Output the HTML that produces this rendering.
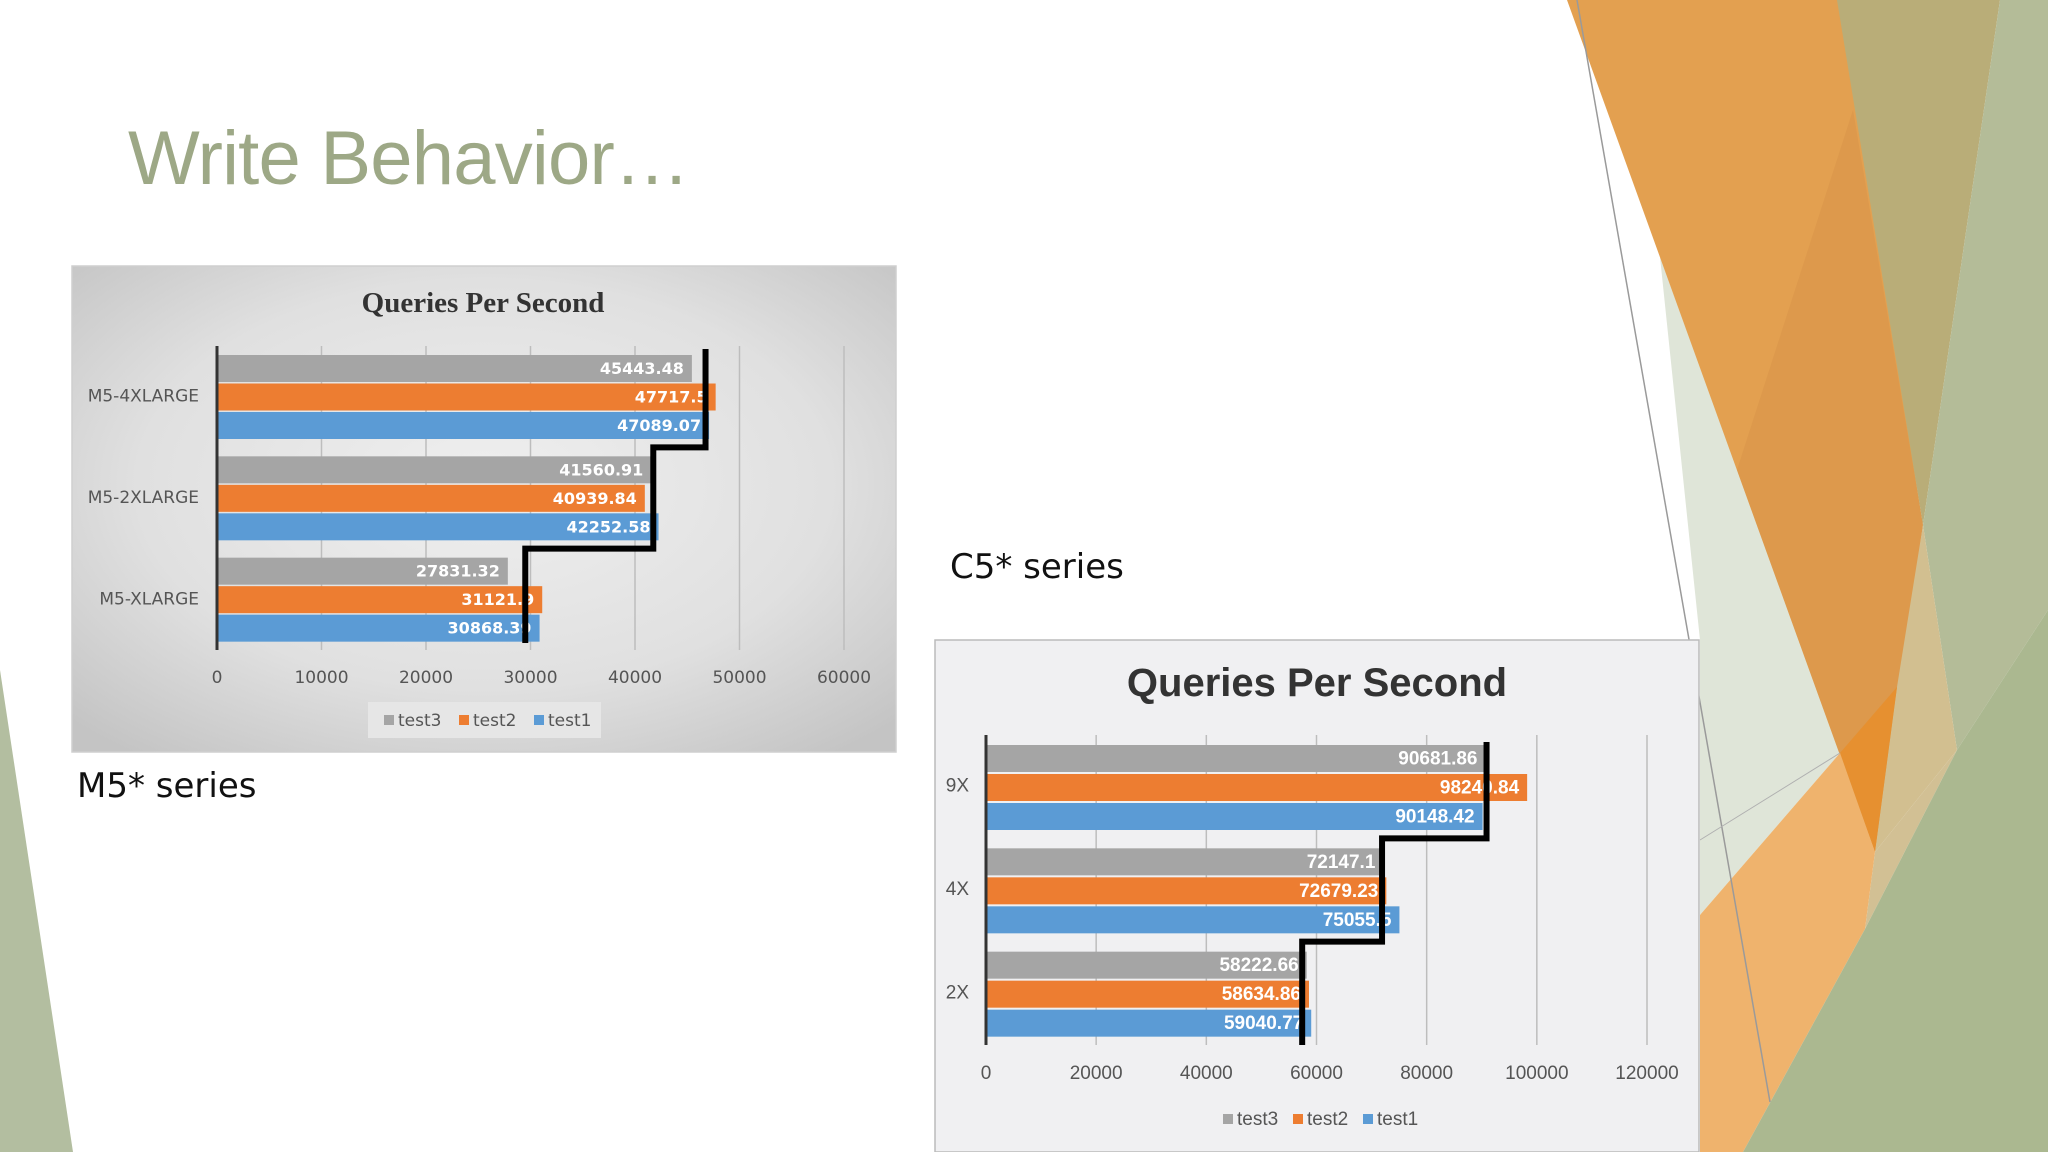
<!DOCTYPE html>
<html><head><meta charset="utf-8"><style>
html,body{margin:0;padding:0;background:#fff;}
svg{display:block;}
</style></head><body>
<svg id="slide" width="2048" height="1152" viewBox="0 0 2048 1152" xmlns="http://www.w3.org/2000/svg">
<defs>
<radialGradient id="g1bg" cx="50%" cy="45%" r="70%">
<stop offset="0" stop-color="#efefef"/><stop offset="0.6" stop-color="#e0e0e0"/><stop offset="1" stop-color="#c4c4c4"/>
</radialGradient>
</defs>
<g>
<polygon points="0,670 73,1152 0,1152" fill="#b3bea0"/>
<polygon points="1660,257 1840,753 1700,915 1700,640" fill="#dfe5d8"/>
<polygon points="1567,0 1840,0 1923,525 1875,852" fill="#e3a050"/>
<polygon points="1853,110 1923,525 1875,852 1737,470" fill="#d9954a" opacity="0.6"/>
<polygon points="1837,0 2000,0 1923,525" fill="#b9ad78"/>
<polygon points="2000,0 2048,0 2048,610 1957,750 1923,525" fill="#b4bc98"/>
<polygon points="1923,525 1957,750 1875,852 1897,687" fill="#d2bf90"/>
<polygon points="1875,852 1957,750 1865,929" fill="#d2c094"/>
<polygon points="1840,753 1897,687 1875,852" fill="#e69030"/>
<polygon points="1700,915 1840,753 1875,852 1865,929 1743,1152 1700,1152" fill="#efb36d"/>
<polygon points="2048,610 2048,1152 1743,1152 1865,929 1957,750" fill="#abb890"/>
<line x1="1577" y1="0" x2="1770" y2="1102" stroke="#9a9a9a" stroke-width="1.5"/>
<line x1="1700" y1="840" x2="1840" y2="753" stroke="#b0b0b0" stroke-width="1"/>
</g>
<text x="128" y="184" font-family="Liberation Sans, sans-serif" font-size="76" fill="#9da886" textLength="562">Write Behavior…</text>
<text x="950" y="578" font-family="DejaVu Sans, sans-serif" font-size="34" fill="#111">C5* series</text>
<text x="77" y="797" font-family="DejaVu Sans, sans-serif" font-size="34" fill="#111">M5* series</text>
<g id="chart1"></g>
<g id="chart2"></g>
</svg>
<script>
// M5 chart data
const m5Categories = ["M5-4XLARGE", "M5-2XLARGE", "M5-XLARGE"];
const m5Test3 = [45443.48, 41560.91, 27831.32];
const m5Test2 = [47717.5, 40939.84, 31121.9];
const m5Test1 = [47089.07, 42252.58, 30868.39];
const m5Step = [46750, 41750, 29500];
const m5Ticks = [0, 10000, 20000, 30000, 40000, 50000, 60000];
const m5Labels3 = ["45443.48", "41560.91", "27831.32"];
const m5Labels2 = ["47717.5", "40939.84", "31121.9"];
const m5Labels1 = ["47089.07", "42252.58", "30868.39"];
// C5 chart data
const c5Categories = ["9X", "4X", "2X"];
const c5Test3 = [90681.86, 72147.1, 58222.66];
const c5Test2 = [98240.84, 72679.23, 58634.86];
const c5Test1 = [90148.42, 75055.5, 59040.77];
const c5Step = [90870, 71900, 57400];
const c5Ticks = [0, 20000, 40000, 60000, 80000, 100000, 120000];
const c5Labels3 = ["90681.86", "72147.1", "58222.66"];
const c5Labels2 = ["98240.84", "72679.23", "58634.86"];
const c5Labels1 = ["90148.42", "75055.5", "59040.77"];

const NS = "http://www.w3.org/2000/svg";
function mk(parent, tag, attrs, text) {
  const e = document.createElementNS(NS, tag);
  for (const k in attrs) e.setAttribute(k, attrs[k]);
  if (text !== undefined) e.textContent = text;
  parent.appendChild(e);
  return e;
}

function drawChart(g, cfg) {
  const bg = mk(g, "rect", {x: cfg.box[0], y: cfg.box[1], width: cfg.box[2], height: cfg.box[3], fill: cfg.bg, stroke: cfg.border, "stroke-width": 1.5});
  
  
  const t = mk(g, "text", {x: cfg.titleX, y: cfg.titleY, "text-anchor": "middle", "font-family": cfg.titleFont, "font-weight": "bold", "font-size": cfg.titleSize, fill: "#333"}, "Queries Per Second");
  
  
  const maxV = cfg.ticks[cfg.ticks.length - 1];
  const xs = v => cfg.x0 + (v / maxV) * (cfg.x1 - cfg.x0);
  const band = (cfg.bottom - cfg.top) / cfg.cats.length;
  cfg.ticks.forEach((tv, i) => {
    if (i > 0) {
      const gl = mk(g, "line", {x1: xs(tv), x2: xs(tv), y1: cfg.top, y2: cfg.bottom, stroke: "#bdbdbd", "stroke-width": 1.5});
      
      
    }
    const tl = mk(g, "text", {x: xs(tv), y: cfg.tickY, "text-anchor": "middle", "font-family": cfg.axisFont, "font-size": cfg.tickSize, fill: "#555"}, String(tv));
    
    
  });
  const series = [
    {vals: cfg.s3, labels: cfg.l3, color: "#a5a5a5"},
    {vals: cfg.s2, labels: cfg.l2, color: "#ed7d31"},
    {vals: cfg.s1, labels: cfg.l1, color: "#5b9bd5"}
  ];
  cfg.cats.forEach((c, ci) => {
    const gy = cfg.top + ci * band;
    const cl = mk(g, "text", {x: cfg.catX, y: gy + band / 2 - cfg.catShift, "text-anchor": "end", "font-family": cfg.axisFont, "font-size": cfg.catSize, fill: "#555", "dominant-baseline": "middle"}, c);
    
    
    series.forEach((s, si) => {
      const y = gy + cfg.pad + si * cfg.step;
      const b = mk(g, "rect", {x: cfg.x0, y: y, width: xs(s.vals[ci]) - cfg.x0, height: cfg.barH, fill: s.color});
      
      
      const bl = mk(g, "text", {x: xs(s.vals[ci]) - 8, y: y + cfg.barH / 2 + 1, "text-anchor": "end", "dominant-baseline": "middle", "font-family": cfg.labelFont, "font-weight": "bold", "font-size": cfg.labelSize, fill: "#fff"}, s.labels[ci]);
      
      
    });
  });
  const ax = mk(g, "line", {x1: cfg.x0, x2: cfg.x0, y1: cfg.top, y2: cfg.bottom, stroke: "#333", "stroke-width": 3});
  
  
  let d = "";
  cfg.stepV.forEach((v, i) => {
    const x = xs(v);
    const yA = i === 0 ? cfg.stepTop : cfg.top + i * band;
    const yB = i === cfg.stepV.length - 1 ? cfg.stepBottom : cfg.top + (i + 1) * band;
    d += (i === 0 ? "M" : "L") + x + "," + yA + " L" + x + "," + yB + " ";
  });
  const sl = mk(g, "path", {d: d, fill: "none", stroke: "#000", "stroke-width": 6});
  
  
  if (cfg.legendBox) {
    const lb = mk(g, "rect", {x: cfg.legendBox[0], y: cfg.legendBox[1], width: cfg.legendBox[2], height: cfg.legendBox[3], fill: "#e6e6e6"});
    
    
  }
  const names = ["test3", "test2", "test1"];
  names.forEach((n, i) => {
    const lx = cfg.legendX + i * cfg.legendStep;
    const sw = mk(g, "rect", {x: lx, y: cfg.legendY - 11, width: 10, height: 10, fill: series[i].color});
    
    
    const lt = mk(g, "text", {x: lx + 14, y: cfg.legendY, "font-family": cfg.axisFont, "font-size": cfg.tickSize, fill: "#555"}, n);
    
    
  });
}

drawChart(document.getElementById("chart1"), {
  box: [72, 266, 824, 486], bg: "url(#g1bg)", border: "#cfcfcf",
  titleX: 483, titleY: 312, titleFont: "Liberation Serif, serif", titleSize: 29,
  axisFont: "DejaVu Sans, sans-serif", labelFont: "DejaVu Sans, sans-serif",
  tickSize: 17, catSize: 17, labelSize: 16, catShift: 0,
  x0: 217, x1: 844, top: 346, bottom: 650,
  cats: m5Categories, s3: m5Test3, s2: m5Test2, s1: m5Test1,
  l3: m5Labels3, l2: m5Labels2, l1: m5Labels1, ticks: m5Ticks,
  pad: 9, step: 28.5, barH: 27, catX: 199, tickY: 683,
  stepV: m5Step, stepTop: 349, stepBottom: 643,
  legendBox: [368, 702, 233, 36], legendX: 384, legendY: 726, legendStep: 75
});
drawChart(document.getElementById("chart2"), {
  box: [935, 640, 764, 512], bg: "#f0f0f2", border: "#bbbbbb",
  titleX: 1317, titleY: 696, titleFont: "Liberation Sans Narrow, Liberation Sans, sans-serif", titleSize: 40,
  axisFont: "Liberation Sans Narrow, Liberation Sans, sans-serif", labelFont: "Liberation Sans Narrow, Liberation Sans, sans-serif",
  tickSize: 19, catSize: 19, labelSize: 19, catShift: 0,
  x0: 986, x1: 1647, top: 735, bottom: 1045,
  cats: c5Categories, s3: c5Test3, s2: c5Test2, s1: c5Test1,
  l3: c5Labels3, l2: c5Labels2, l1: c5Labels1, ticks: c5Ticks,
  pad: 10, step: 29, barH: 27, catX: 969, tickY: 1079,
  stepV: c5Step, stepTop: 742, stepBottom: 1045,
  legendBox: null, legendX: 1223, legendY: 1125, legendStep: 70
});
</script>
</body></html>
